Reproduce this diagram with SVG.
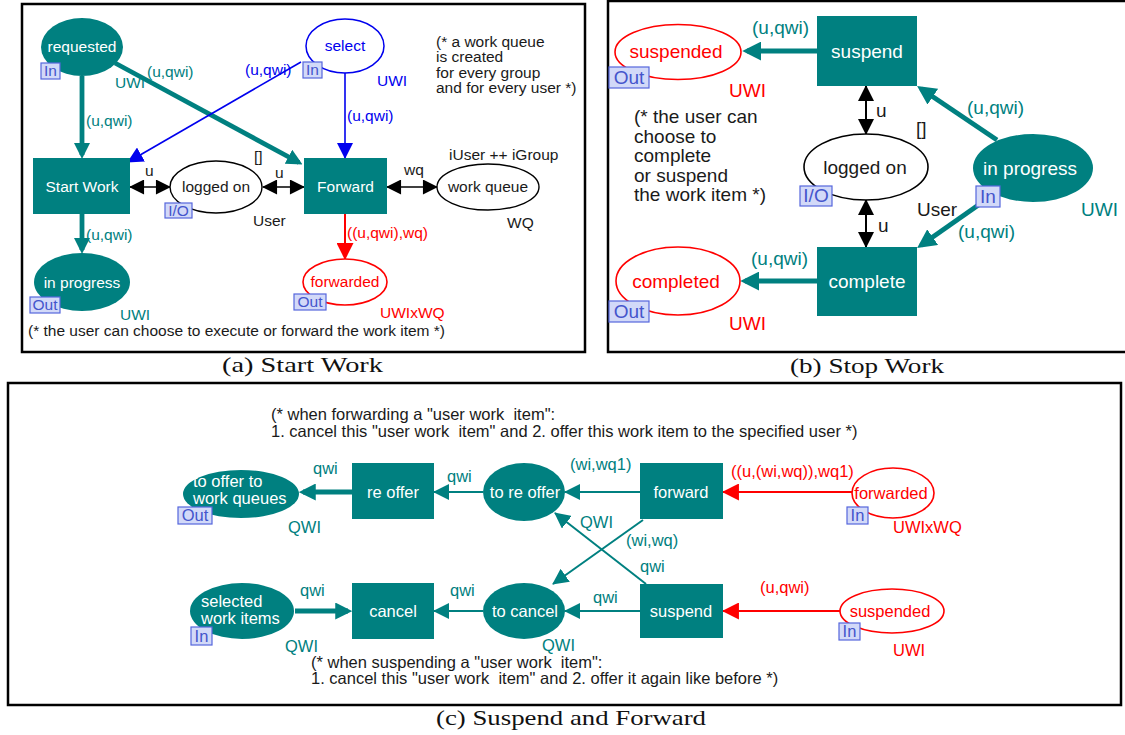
<svg xmlns="http://www.w3.org/2000/svg" width="1125" height="735" viewBox="0 0 1125 735">
  <style>
    text { font-family: "Liberation Sans", Arial, Helvetica, sans-serif; }
    .a { font-size: 15.5px; }
    .b { font-size: 19px; }
    .c { font-size: 16.5px; }
    .pre { white-space: pre; }
    .cap { font-family: "Liberation Serif", "Times New Roman", serif; font-size: 22px; fill: #111; }
    .frame { fill: none; stroke: #000; stroke-width: 2.5; }
    .tplace { fill: #008080; }
    .trans { fill: #008080; }
    .wt { fill: #fff; text-anchor: middle; }
    .mid { text-anchor: middle; }
    .tl { fill: #008080; }
    .bl { fill: #0000ee; }
    .rd { fill: #ff0000; }
    .dk { fill: #1a1a1a; }
    .port rect { fill: #d2d9f8; stroke: #5566dd; stroke-width: 1.2; }
    .port text { fill: #4455cc; text-anchor: middle; }
    .wplace { fill: #fff; stroke: #000; stroke-width: 1.4; }
    .bplace { fill: #fff; stroke: #0000ee; stroke-width: 1.5; }
    .rplace { fill: #fff; stroke: #ff0000; stroke-width: 1.6; }
    .thick { stroke: #008080; stroke-width: 4.8; fill: none; }
    .thin { stroke: #008080; stroke-width: 2; fill: none; }
    .bline { stroke: #0000ee; stroke-width: 1.6; fill: none; }
    .rline { stroke: #ff0000; stroke-width: 2; fill: none; }
    .kline { stroke: #000; stroke-width: 1.6; fill: none; }
  </style>
  <defs>
    <marker id="mTa" viewBox="0 0 16 16" refX="12" refY="8" markerUnits="userSpaceOnUse" markerWidth="16" markerHeight="16" orient="auto"><path d="M0,0L16,8L0,16z" fill="#008080"/></marker>
    <marker id="mTb" viewBox="0 0 16 16" refX="12" refY="8" markerUnits="userSpaceOnUse" markerWidth="19" markerHeight="19" orient="auto"><path d="M0,0L16,8L0,16z" fill="#008080"/></marker>
    <marker id="mTc" viewBox="0 0 16 16" refX="12" refY="8" markerUnits="userSpaceOnUse" markerWidth="17" markerHeight="17" orient="auto"><path d="M0,0L16,8L0,16z" fill="#008080"/></marker>
    <marker id="mTt" viewBox="0 0 16 16" refX="15" refY="8" markerUnits="userSpaceOnUse" markerWidth="16" markerHeight="16" orient="auto"><path d="M0,0L16,8L0,16z" fill="#008080"/></marker>
    <marker id="mB" viewBox="0 0 16 16" refX="15" refY="8" markerUnits="userSpaceOnUse" markerWidth="16" markerHeight="16" orient="auto"><path d="M0,0L16,8L0,16z" fill="#0000ee"/></marker>
    <marker id="mR" viewBox="0 0 16 16" refX="15" refY="8" markerUnits="userSpaceOnUse" markerWidth="17" markerHeight="17" orient="auto"><path d="M0,0L16,8L0,16z" fill="#ff0000"/></marker>
    <marker id="mK" viewBox="0 0 16 16" refX="15" refY="8" markerUnits="userSpaceOnUse" markerWidth="16" markerHeight="15" orient="auto-start-reverse"><path d="M0,0L16,8L0,16z" fill="#000"/></marker>
    <marker id="mKb" viewBox="0 0 16 16" refX="15" refY="8" markerUnits="userSpaceOnUse" markerWidth="17" markerHeight="16" orient="auto-start-reverse"><path d="M0,0L16,8L0,16z" fill="#000"/></marker>
  </defs>

  <!-- ===================== panel frames and captions ===================== -->
  <rect class="frame" x="22" y="4" width="563" height="348"/>
  <rect class="frame" x="608" y="1" width="530" height="351"/>
  <rect class="frame" x="8" y="383" width="1113" height="322"/>
  <text class="cap" x="222" y="372" textLength="161" lengthAdjust="spacingAndGlyphs">(a) Start Work</text>
  <text class="cap" x="790" y="373" textLength="154" lengthAdjust="spacingAndGlyphs">(b) Stop Work</text>
  <text class="cap" x="436" y="725" textLength="270" lengthAdjust="spacingAndGlyphs">(c) Suspend and Forward</text>

  <!-- ===================== connectors ===================== -->
  <g id="connectors">
    <!-- (a) Start Work -->
    <line class="thick" x1="82" y1="76" x2="82" y2="155" marker-end="url(#mTa)"/>
    <line class="thick" x1="115" y1="63" x2="299" y2="162.5" marker-end="url(#mTa)"/>
    <line class="bline" x1="301" y1="62" x2="128" y2="162" marker-end="url(#mB)"/>
    <line class="bline" x1="345" y1="73" x2="345" y2="158" marker-end="url(#mB)"/>
    <line class="kline" x1="130" y1="187" x2="170" y2="187" marker-start="url(#mK)" marker-end="url(#mK)"/>
    <line class="kline" x1="263" y1="187" x2="304" y2="187" marker-start="url(#mK)" marker-end="url(#mK)"/>
    <line class="kline" x1="387" y1="187" x2="437" y2="187" marker-start="url(#mK)" marker-end="url(#mK)"/>
    <line class="rline" x1="345" y1="214" x2="345" y2="259" marker-end="url(#mR)"/>
    <line class="thick" x1="82" y1="214" x2="82" y2="250" marker-end="url(#mTa)"/>

    <!-- (b) Stop Work -->
    <line class="thick" x1="817" y1="51" x2="747" y2="51" marker-end="url(#mTb)"/>
    <line class="thick" x1="817" y1="281" x2="745" y2="281" marker-end="url(#mTb)"/>
    <line class="thick" x1="997" y1="140" x2="921" y2="88.7" marker-end="url(#mTb)"/>
    <line class="thick" x1="997" y1="192" x2="921" y2="245.3" marker-end="url(#mTb)"/>
    <line class="kline" style="stroke-width:2" x1="866" y1="86" x2="866" y2="134" marker-start="url(#mKb)" marker-end="url(#mKb)"/>
    <line class="kline" style="stroke-width:2" x1="866" y1="200" x2="866" y2="247" marker-start="url(#mKb)" marker-end="url(#mKb)"/>

    <!-- (c) Suspend and Forward -->
    <line class="thick" x1="352" y1="492" x2="303" y2="492" marker-end="url(#mTc)"/>
    <line class="thin" x1="483" y1="492" x2="434" y2="492" marker-end="url(#mTt)"/>
    <line class="thin" x1="640" y1="492" x2="565" y2="492" marker-end="url(#mTt)"/>
    <line class="rline" x1="852" y1="492" x2="723" y2="492" marker-end="url(#mR)"/>
    <line class="thin" x1="643" y1="520" x2="553" y2="584" marker-end="url(#mTt)"/>
    <line class="thin" x1="646" y1="584" x2="555" y2="513" marker-end="url(#mTt)"/>
    <line class="rline" x1="840" y1="611" x2="723" y2="611" marker-end="url(#mR)"/>
    <line class="thin" x1="640" y1="611" x2="565" y2="611" marker-end="url(#mTt)"/>
    <line class="thin" x1="483" y1="611" x2="434" y2="611" marker-end="url(#mTt)"/>
    <line class="thick" x1="295" y1="611" x2="348" y2="611" marker-end="url(#mTc)"/>
  </g>

  <!-- arc inscriptions -->
  <g id="arc-labels">
    <text class="a tl" x="147" y="77">(u,qwi)</text>
    <text class="a tl" x="86" y="126">(u,qwi)</text>
    <text class="a bl" x="245" y="75">(u,qwi)</text>
    <text class="a bl" x="347" y="121">(u,qwi)</text>
    <text class="a dk" x="145" y="176">u</text>
    <text class="a dk" x="275" y="178">u</text>
    <text class="a dk" x="254" y="162">[]</text>
    <text class="a dk" x="404" y="175">wq</text>
    <text class="a rd" x="347" y="238">((u,qwi),wq)</text>
    <text class="a tl" x="86" y="240">(u,qwi)</text>

    <text class="b tl" x="752" y="34">(u,qwi)</text>
    <text class="b tl" x="751" y="265">(u,qwi)</text>
    <text class="b tl" x="967" y="114">(u,qwi)</text>
    <text class="b tl" x="958" y="238">(u,qwi)</text>
    <text class="b dk" x="876" y="117">u</text>
    <text class="b dk" x="878" y="232">u</text>
    <text class="b dk" x="916" y="135">[]</text>

    <text class="c tl" x="313" y="474">qwi</text>
    <text class="c tl" x="447" y="482">qwi</text>
    <text class="c tl" x="570" y="470">(wi,wq1)</text>
    <text class="c rd" x="731" y="477">((u,(wi,wq)),wq1)</text>
    <text class="c tl" x="580" y="528">QWI</text>
    <text class="c tl" x="626" y="546">(wi,wq)</text>
    <text class="c tl" x="640" y="572">qwi</text>
    <text class="c rd" x="760" y="593">(u,qwi)</text>
    <text class="c tl" x="593" y="603">qwi</text>
    <text class="c tl" x="450" y="596">qwi</text>
    <text class="c tl" x="300" y="596">qwi</text>
  </g>

  <!-- ===================== (a) Start Work nodes ===================== -->
  <g id="a-requested">
    <ellipse class="tplace" cx="82" cy="47" rx="41" ry="29"/>
    <text class="a wt" x="82" y="52">requested</text>
    <g class="port"><rect x="41" y="63" width="19" height="16"/><text class="a" x="50.5" y="76">In</text></g>
    <text class="a tl" x="115" y="88">UWI</text>
  </g>
  <g id="a-select">
    <ellipse class="bplace" cx="345" cy="46" rx="39" ry="27"/>
    <text class="a bl mid" x="345" y="51">select</text>
    <g class="port"><rect x="303" y="62" width="19" height="16"/><text class="a" x="312.5" y="75">In</text></g>
    <text class="a bl" x="377" y="86">UWI</text>
  </g>
  <g id="a-start-work">
    <rect class="trans" x="33" y="158" width="97" height="56"/>
    <text class="a wt" x="82" y="192">Start Work</text>
  </g>
  <g id="a-logged-on">
    <ellipse class="wplace" cx="216" cy="187" rx="46" ry="26"/>
    <text class="a dk mid" x="216" y="192">logged on</text>
    <g class="port"><rect x="165" y="203" width="27" height="15"/><text class="a" x="178.5" y="216">I/O</text></g>
    <text class="a dk" x="253" y="226">User</text>
  </g>
  <g id="a-forward">
    <rect class="trans" x="304" y="158" width="83" height="56"/>
    <text class="a wt" x="345.5" y="192">Forward</text>
  </g>
  <g id="a-work-queue">
    <ellipse class="wplace" cx="488" cy="187" rx="51" ry="23"/>
    <text class="a dk mid" x="488" y="192">work queue</text>
    <text class="a dk" x="449" y="160">iUser ++ iGroup</text>
    <text class="a dk" x="507" y="228">WQ</text>
  </g>
  <g id="a-forwarded">
    <ellipse class="rplace" cx="345" cy="282" rx="42" ry="23"/>
    <text class="a rd mid" x="345" y="287">forwarded</text>
    <g class="port"><rect x="294" y="294" width="32" height="16"/><text class="a" x="310" y="307">Out</text></g>
    <text class="a rd" x="380" y="318">UWIxWQ</text>
  </g>
  <g id="a-in-progress">
    <ellipse class="tplace" cx="82" cy="282" rx="48" ry="29"/>
    <text class="a wt" x="82" y="288">in progress</text>
    <g class="port"><rect x="30" y="297" width="30" height="16"/><text class="a" x="45" y="310">Out</text></g>
    <text class="a tl" x="120" y="320">UWI</text>
  </g>
  <g id="a-notes">
    <text class="a dk" x="436" y="47">(* a work queue</text>
    <text class="a dk" x="436" y="62">is created</text>
    <text class="a dk" x="436" y="77.5">for every group</text>
    <text class="a dk" x="436" y="93">and for every user *)</text>
    <text class="a dk" x="28" y="336">(* the user can choose to execute or forward the work item *)</text>
  </g>

  <!-- ===================== (b) Stop Work nodes ===================== -->
  <g id="b-suspended">
    <ellipse class="rplace" cx="678" cy="52" rx="63" ry="27.5"/>
    <text class="b rd mid" x="676" y="58">suspended</text>
    <g class="port"><rect x="609" y="67" width="40" height="21"/><text class="b" x="629" y="84">Out</text></g>
    <text class="b rd" x="729" y="97">UWI</text>
  </g>
  <g id="b-suspend">
    <rect class="trans" x="817" y="16" width="100" height="70"/>
    <text class="b wt" x="867" y="58">suspend</text>
  </g>
  <g id="b-logged-on">
    <ellipse class="wplace" style="stroke-width:1.6" cx="866" cy="167" rx="62" ry="33"/>
    <text class="b dk mid" x="865" y="174">logged on</text>
    <g class="port"><rect x="800" y="186" width="32" height="20"/><text class="b" x="816" y="202">I/O</text></g>
    <text class="b dk" x="917" y="216">User</text>
  </g>
  <g id="b-complete">
    <rect class="trans" x="817" y="247" width="100" height="69"/>
    <text class="b wt" x="867" y="288">complete</text>
  </g>
  <g id="b-completed">
    <ellipse class="rplace" cx="678" cy="281" rx="62" ry="34"/>
    <text class="b rd mid" x="676" y="288">completed</text>
    <g class="port"><rect x="609" y="301" width="40" height="21"/><text class="b" x="629" y="318">Out</text></g>
    <text class="b rd" x="729" y="330">UWI</text>
  </g>
  <g id="b-in-progress">
    <ellipse class="tplace" cx="1033" cy="168" rx="60" ry="34"/>
    <text class="b wt" x="1030" y="175">in progress</text>
    <g class="port"><rect x="976" y="186" width="24" height="21"/><text class="b" x="988" y="203">In</text></g>
    <text class="b tl" x="1081" y="216">UWI</text>
  </g>
  <g id="b-notes">
    <text class="b dk" x="634" y="123">(* the user can</text>
    <text class="b dk" x="634" y="142.5">choose to</text>
    <text class="b dk" x="634" y="162">complete</text>
    <text class="b dk" x="634" y="181.5">or suspend</text>
    <text class="b dk" x="634" y="201">the work item *)</text>
  </g>

  <!-- ===================== (c) Suspend and Forward nodes ===================== -->
  <g id="c-to-offer">
    <ellipse class="tplace" cx="241" cy="494" rx="58" ry="24"/>
    <text class="c" fill="#fff" x="193" y="487">to offer to</text>
    <text class="c" fill="#fff" x="193" y="504">work queues</text>
    <g class="port"><rect x="178" y="507" width="34" height="17"/><text class="c" x="195" y="521">Out</text></g>
    <text class="c tl" x="288" y="533">QWI</text>
  </g>
  <g id="c-re-offer">
    <rect class="trans" x="352" y="463" width="82" height="56"/>
    <text class="c wt" x="393" y="498">re offer</text>
  </g>
  <g id="c-to-re-offer">
    <ellipse class="tplace" cx="524" cy="492" rx="41" ry="29"/>
    <text class="c wt" x="525" y="498">to re offer</text>
  </g>
  <g id="c-forward">
    <rect class="trans" x="640" y="463" width="83" height="56"/>
    <text class="c wt" x="681" y="498">forward</text>
  </g>
  <g id="c-forwarded">
    <ellipse class="rplace" cx="893" cy="493" rx="41" ry="25"/>
    <text class="c rd mid" x="891" y="499">forwarded</text>
    <g class="port"><rect x="847" y="507" width="21" height="17"/><text class="c" x="857.5" y="521">In</text></g>
    <text class="c rd" x="893" y="533">UWIxWQ</text>
  </g>
  <g id="c-selected">
    <ellipse class="tplace" cx="242" cy="611" rx="52" ry="28"/>
    <text class="c" fill="#fff" x="201" y="607">selected</text>
    <text class="c" fill="#fff" x="201" y="624">work items</text>
    <g class="port"><rect x="191" y="627" width="21" height="18"/><text class="c" x="201.5" y="642">In</text></g>
    <text class="c tl" x="285" y="652">QWI</text>
  </g>
  <g id="c-cancel">
    <rect class="trans" x="352" y="583" width="82" height="56"/>
    <text class="c wt" x="393" y="617">cancel</text>
  </g>
  <g id="c-to-cancel">
    <ellipse class="tplace" cx="524" cy="611" rx="41" ry="28"/>
    <text class="c wt" x="525" y="617">to cancel</text>
    <text class="c tl" x="542" y="651">QWI</text>
  </g>
  <g id="c-suspend">
    <rect class="trans" x="640" y="584" width="83" height="54"/>
    <text class="c wt" x="681" y="617">suspend</text>
  </g>
  <g id="c-suspended">
    <ellipse class="rplace" cx="892" cy="611" rx="52" ry="22"/>
    <text class="c rd mid" x="890" y="617">suspended</text>
    <g class="port"><rect x="839" y="623" width="21" height="17"/><text class="c" x="849.5" y="637">In</text></g>
    <text class="c rd" x="893" y="656">UWI</text>
  </g>
  <g id="c-notes">
    <text class="c dk pre" x="271" y="420">(* when forwarding a "user work  item":</text>
    <text class="c dk pre" x="271" y="437">1. cancel this "user work  item" and 2. offer this work item to the specified user *)</text>
    <text class="c dk pre" x="311" y="668">(* when suspending a "user work  item":</text>
    <text class="c dk pre" x="311" y="684">1. cancel this "user work  item" and 2. offer it again like before *)</text>
  </g>
</svg>
